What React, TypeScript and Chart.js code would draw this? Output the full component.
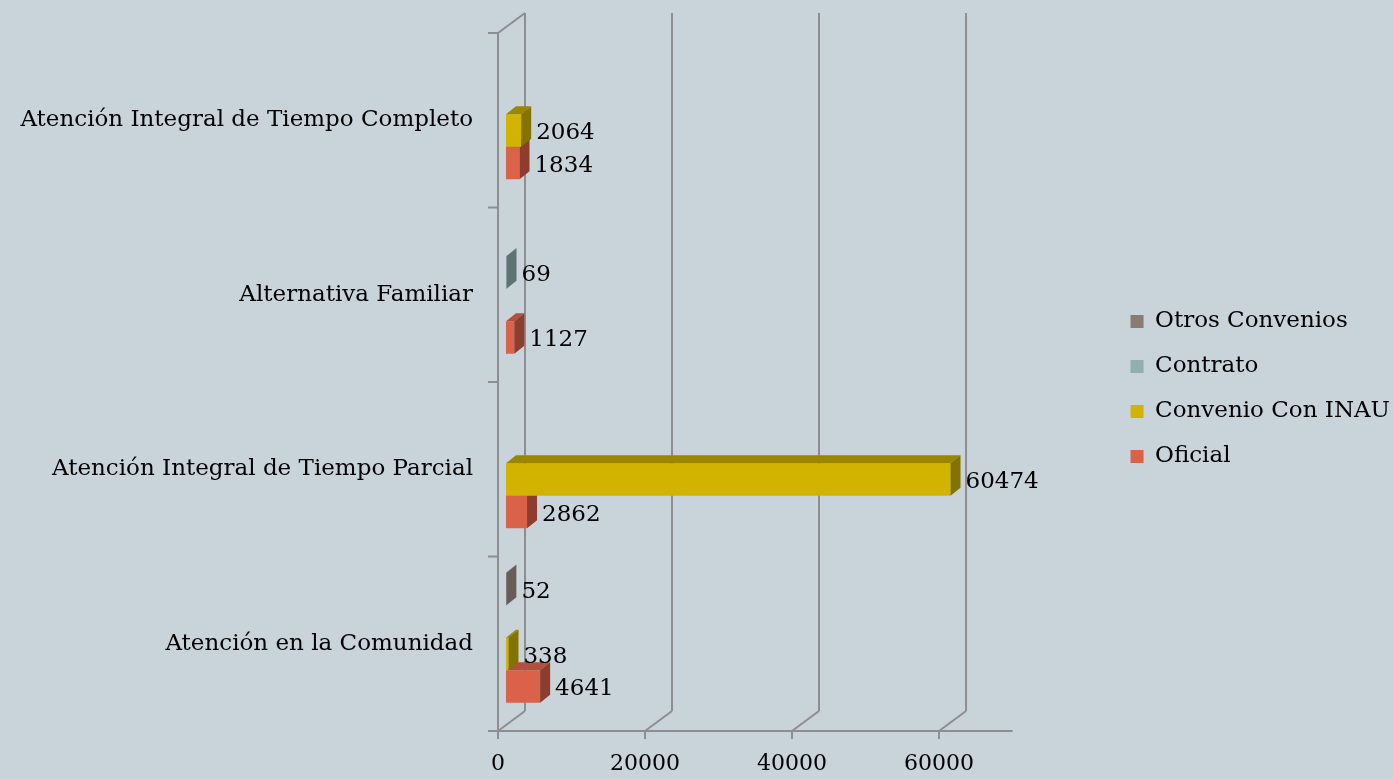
import React, { useEffect, useRef } from 'react';
import { Chart, registerables } from 'chart.js';

Chart.register(...registerables);

// ---------- data ----------
const categories = [
  'Atención Integral de Tiempo Completo',
  'Alternativa Familiar',
  'Atención Integral de Tiempo Parcial',
  'Atención en la Comunidad',
];
const seriesNames = ['Otros Convenios', 'Contrato', 'Convenio Con INAU', 'Oficial'];
const otrosConvenios: (number | null)[] = [null, null, null, 52];
const contrato: (number | null)[] = [null, 69, null, null];
const convenioConINAU: (number | null)[] = [2064, null, 60474, 338];
const oficial: (number | null)[] = [1834, 1127, 2862, 4641];
const xTickValues = [0, 20000, 40000, 60000];
const xMax = 70000;

// ---------- styles ----------
const FONT = 'DejaVu Serif';
const BG = '#C8D3DA';
const LINE = '#8E8E8E';
const frontColors = ['#8C7B70', '#8FB0AF', '#D2B400', '#DA6249'];
const sideColors = ['#6A5C54', '#5C7474', '#857300', '#8D3C2E'];
const topColors = ['#7A6A60', '#6F8A8A', '#9C8600', '#B0503D'];
const seriesValues = [otrosConvenios, contrato, convenioConINAU, oficial];

const WALL_DX = 27;
const WALL_DY = -20;
const BAR_SHIFT_X = 8;
const BAR_SHIFT_Y = -6;
const BAR_DX = 10;
const BAR_DY = -8;
const LEGEND_GAP = 96; // distance from plot's right edge to legend box left edge
const LEGEND_DROP = 7;

const threeD = {
  id: 'threeD',
  beforeDraw(chart: any) {
    const { ctx, width, height } = chart;
    ctx.save();
    ctx.fillStyle = BG;
    ctx.fillRect(0, 0, width, height);
    ctx.restore();
  },
  afterLayout(chart: any) {
    const lg = chart.legend;
    if (!lg) return;
    const shift = chart.chartArea.right + LEGEND_GAP - lg.left;
    lg.left += shift;
    lg.right += shift;
    lg.top += LEGEND_DROP;
    lg.bottom += LEGEND_DROP;
  },
  beforeDatasetsDraw(chart: any) {
    const { ctx, chartArea: a } = chart;
    const xs = chart.scales.x;
    const ys = chart.scales.y;
    ctx.save();
    ctx.strokeStyle = LINE;
    ctx.lineWidth = 2;
    ctx.lineCap = 'butt';
    const line = (x1: number, y1: number, x2: number, y2: number) => {
      ctx.beginPath();
      ctx.moveTo(x1, y1);
      ctx.lineTo(x2, y2);
      ctx.stroke();
    };
    line(a.left, a.top, a.left, a.bottom);
    line(a.left, a.top, a.left + WALL_DX, a.top + WALL_DY);
    for (let i = 0; i <= categories.length; i++) {
      const y = ys.getPixelForValue(i - 0.5);
      line(a.left - 10, y, a.left, y);
    }
    const xEnd = xs.getPixelForValue(xMax);
    line(a.left - 10, a.bottom, xEnd, a.bottom);
    xTickValues.forEach((v) => {
      const px = xs.getPixelForValue(v);
      line(px, a.bottom, px, a.bottom + 8);
      line(px, a.bottom, px + WALL_DX, a.bottom + WALL_DY);
      line(px + WALL_DX, a.bottom + WALL_DY, px + WALL_DX, a.top + WALL_DY);
    });
    ctx.restore();
    ctx.save();
    ctx.translate(BAR_SHIFT_X, BAR_SHIFT_Y);
  },
  afterDatasetDraw(chart: any, args: any) {
    const { ctx } = chart;
    const di = args.index;
    const meta = args.meta;
    const data = chart.data.datasets[di].data;
    meta.data.forEach((el: any, i: number) => {
      if (data[i] === null || data[i] === undefined) return;
      const left = Math.min(el.base, el.x);
      const right = Math.max(el.base, el.x);
      const top = el.y - el.height / 2;
      const bottom = el.y + el.height / 2;
      ctx.fillStyle = topColors[di];
      ctx.beginPath();
      ctx.moveTo(left, top);
      ctx.lineTo(left + BAR_DX, top + BAR_DY);
      ctx.lineTo(right + BAR_DX, top + BAR_DY);
      ctx.lineTo(right, top);
      ctx.closePath();
      ctx.fill();
      ctx.fillStyle = sideColors[di];
      ctx.beginPath();
      ctx.moveTo(right, top);
      ctx.lineTo(right + BAR_DX, top + BAR_DY);
      ctx.lineTo(right + BAR_DX, bottom + BAR_DY);
      ctx.lineTo(right, bottom);
      ctx.closePath();
      ctx.fill();
    });
  },
  afterDatasetsDraw(chart: any) {
    const { ctx } = chart;
    ctx.fillStyle = '#000';
    ctx.font = `23px "${FONT}"`;
    ctx.textAlign = 'left';
    ctx.textBaseline = 'middle';
    chart.data.datasets.forEach((ds: any, di: number) => {
      const meta = chart.getDatasetMeta(di);
      meta.data.forEach((el: any, i: number) => {
        const v = ds.data[i];
        if (v === null || v === undefined) return;
        const right = Math.max(el.base, el.x);
        ctx.fillText(String(v), right + BAR_DX + 5, el.y + 3);
      });
    });
    ctx.restore();
  },
};

export default function App() {
  const ref = useRef<HTMLCanvasElement | null>(null);
  useEffect(() => {
    document.body.style.margin = '0';
    document.body.style.background = BG;
    if (!ref.current) return;
    const chart = new Chart(ref.current, {
      type: 'bar',
      data: {
        labels: categories,
        datasets: seriesNames.map((name, i) => ({
          label: name,
          data: seriesValues[i],
          backgroundColor: frontColors[i],
          borderWidth: 0,
          barPercentage: 1,
          categoryPercentage: 0.745,
          clip: false as any,
        })),
      },
      options: {
        indexAxis: 'y',
        animation: false,
        responsive: true,
        maintainAspectRatio: false,
        layout: { padding: { top: 33, left: 0, right: 89, bottom: 0 } },
        plugins: {
          tooltip: { enabled: false },
          legend: {
            position: 'right',
            fullSize: false,
            labels: {
              boxWidth: 13,
              boxHeight: 13,
              padding: 22,
              color: '#000',
              font: { family: FONT, size: 23 },
            },
          },
        },
        scales: {
          x: {
            type: 'linear',
            min: 0,
            max: xMax,
            grid: { display: false, drawTicks: false },
            border: { display: false },
            afterBuildTicks: (s: any) => {
              s.ticks = xTickValues.map((v) => ({ value: v }));
            },
            afterFit: (s: any) => {
              s.height = 48;
            },
            ticks: {
              color: '#000',
              padding: 20,
              maxRotation: 0,
              font: { family: FONT, size: 22 },
              callback: (v: any) => String(v),
            },
          },
          y: {
            type: 'category',
            grid: { display: false, drawTicks: false },
            border: { display: false },
            afterFit: (s: any) => {
              s.width = 498;
              s.paddingTop = 0;
              s.paddingBottom = 0;
            },
            ticks: {
              color: '#000',
              padding: 25,
              font: { family: FONT, size: 23 },
            },
          },
        },
      },
      plugins: [threeD],
    } as any);
    return () => chart.destroy();
  }, []);
  return (
    <div style={{ width: 1393, height: 779, position: 'relative', background: BG }}>
      <canvas ref={ref} />
    </div>
  );
}
